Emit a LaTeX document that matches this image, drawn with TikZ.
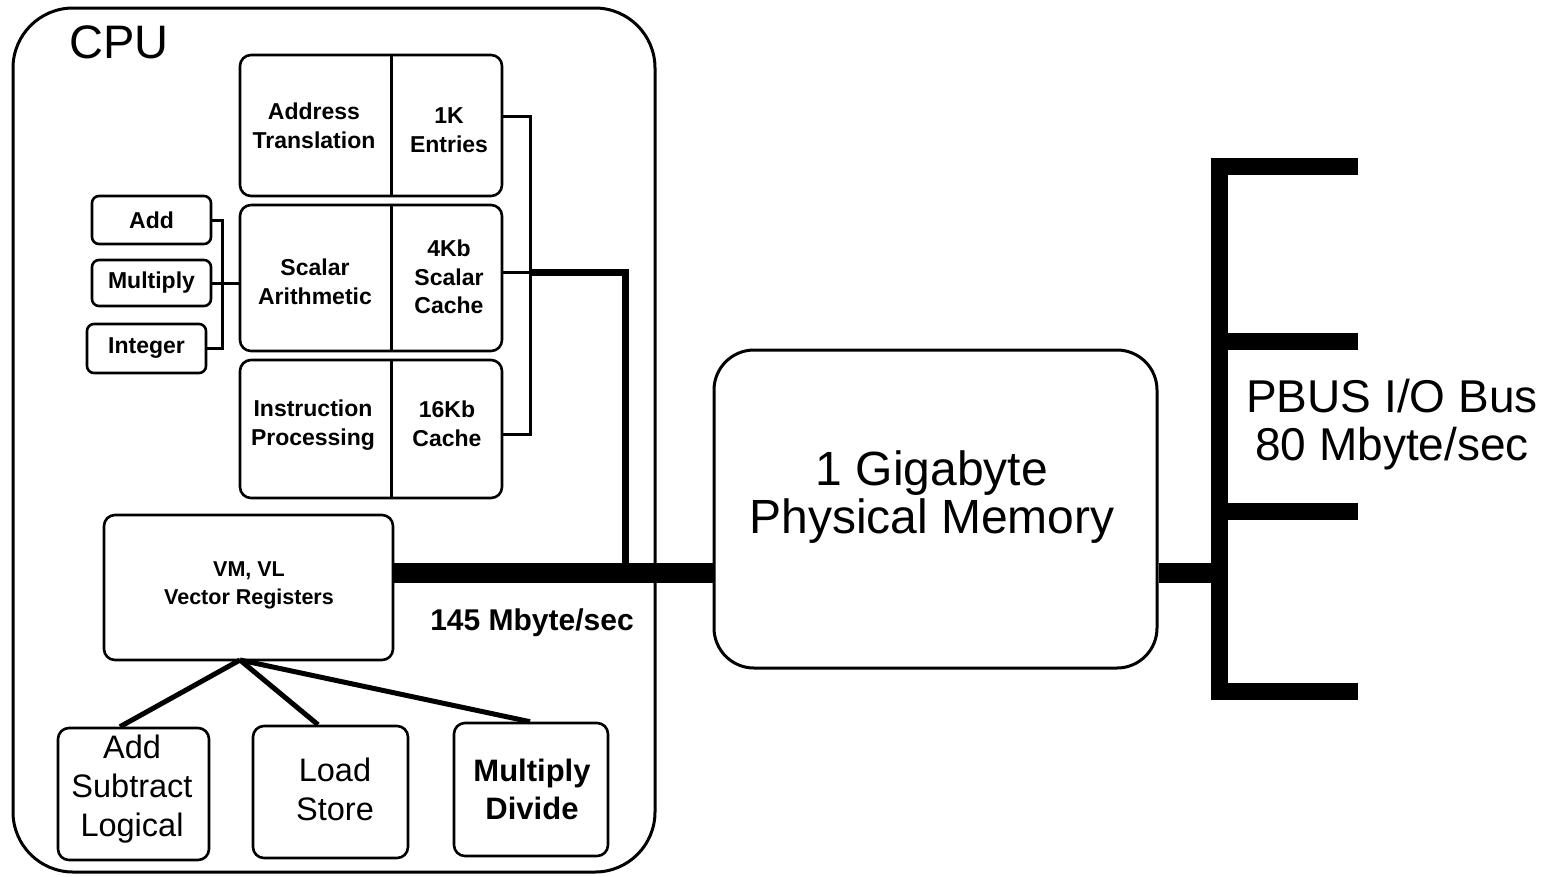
\documentclass[tikz,border=0pt]{standalone}
\usepackage{fontspec}
\setmainfont{Liberation Sans}
\usetikzlibrary{calc}
\begin{document}
\begin{tikzpicture}[x=1pt,y=-1pt,
  box/.style={draw,line width=2.6pt,rounded corners=11pt,inner sep=0pt},
  bigbox/.style={draw,line width=3pt,rounded corners=#1,inner sep=0pt},
  lbl/.style={align=center,inner sep=0pt,font=\bfseries\fontsize{23}{28.5}\selectfont},
  vlbl/.style={align=center,inner sep=0pt,font=\bfseries\fontsize{21.5}{28}\selectfont},
  blbl/.style={align=center,inner sep=0pt,font=\fontsize{32.5}{39}\selectfont},
  bblbl/.style={align=center,inner sep=0pt,font=\bfseries\fontsize{31}{38}\selectfont},
  huge/.style={align=center,inner sep=0pt,font=\fontsize{48}{48}\selectfont},
  wire/.style={line width=3pt},
  fat/.style={line width=7pt},
  bus/.style={line width=20pt},
  iobus/.style={line width=17pt},
  link/.style={line width=5pt}]
\useasboundingbox (0,0) rectangle (1554,876);
% CPU outline
\node[bigbox=60pt,minimum width=642pt,minimum height=864pt] (cpu) at (334,440) {};
\node[inner sep=0pt,anchor=west,font=\fontsize{47}{48}\selectfont] (cputxt) at (69,42) {CPU};
% split boxes
\node[box,minimum width=262pt,minimum height=141pt] (atbox) at (371,125.5) {};
\node[box,minimum width=262pt,minimum height=146pt] (sabox) at (371,278) {};
\node[box,minimum width=262pt,minimum height=138pt] (ipbox) at (371,429) {};
\draw[wire] (atbox.north west) ++(153,0) -- ++(0,141);
\draw[wire] (sabox.north west) ++(153,0) -- ++(0,146);
\draw[wire] (ipbox.north west) ++(153,0) -- ++(0,138);
\node[lbl] (at) at (314,126) {Address\\Translation};
\node[lbl] (atk) at (449,130) {1K\\Entries};
\node[lbl] (sa) at (315,282) {Scalar\\Arithmetic};
\node[lbl] (sak) at (449,277) {4Kb\\Scalar\\Cache};
\node[lbl] (ip) at (313,425) {Instruction\\Processing};
\node[lbl] (ipk) at (447,424) {16Kb\\Cache};
% small boxes
\node[box,rounded corners=7pt,minimum width=119pt,minimum height=48pt,lbl] (add) at (151.5,220) {Add};
\node[box,rounded corners=7pt,minimum width=119pt,minimum height=46pt,lbl] (mul) at (151.5,283) {Multiply};
\node[box,rounded corners=7pt,minimum width=119pt,minimum height=49pt,lbl] (int) at (146.5,348.5) {Integer};
\coordinate (lb) at (222,283);
\draw[wire] (add.east) -| (lb) |- (int.east);
\draw[wire] (mul.east) -- (mul.east -| sabox.west);
% right bracket
\coordinate (rb) at (530,272);
\draw[wire] ($(atbox.east)+(0,-9)$) -| (rb) |- ($(ipbox.east)+(0,5)$);
\draw[wire] ($(sabox.east)+(0,-6)$) -- (rb);
\coordinate (busy) at (0,573);
\coordinate (drop) at (625,272);
\draw[fat] (rb) -- (drop) -- (drop |- busy);
% vector registers
\node[box,minimum width=289pt,minimum height=145pt] (vm) at (248.5,587.5) {};
\node[vlbl] (vmt) at (249,585) {VM, VL\\Vector Registers};
\node[inner sep=0pt,font=\bfseries\fontsize{30}{30}\selectfont] (rate) at (532,623) {145 Mbyte/sec};
% bottom units
\node[box,minimum width=151pt,minimum height=132pt] (asl) at (133.5,794) {};
\node[blbl] (aslt) at (132,789) {Add\\Subtract\\Logical};
\node[box,minimum width=155pt,minimum height=132pt] (ls) at (330.5,792) {};
\node[blbl] (lst) at (335,789) {Load\\Store};
\node[box,minimum width=154pt,minimum height=133pt] (md) at (531,789.5) {};
\node[bblbl] (mdt) at (532,789) {Multiply\\Divide};
\coordinate (vmb) at (240,660);
\draw[link] (vmb) -- (asl.north -| 120,0);
\draw[link] (vmb) -- (ls.north -| 318,0);
\draw[link] (vmb) -- (md.north -| 530,0);
% memory
\node[bigbox=40pt,minimum width=443pt,minimum height=318pt] (mem) at (935.5,509) {};
\node[huge] (memt) at (932,497) {1 Gigabyte\\Physical Memory};
% main bus
\draw[bus] (vm.east |- busy) -- (mem.west |- busy);
% I/O bus
\coordinate (iotop) at (1219,158);
\coordinate (iobot) at (1219,700);
\draw[iobus] (iotop) -- (iobot);
\coordinate (b1) at (1358,166.5);
\coordinate (b2) at (1358,341.5);
\coordinate (b3) at (1358,511.5);
\coordinate (b4) at (1358,691.5);
\draw[iobus] (b1 -| 1210.5,0) -- (b1);
\draw[iobus] (b2 -| iotop) -- (b2);
\draw[iobus] (b3 -| iotop) -- (b3);
\draw[iobus] (b4 -| 1210.5,0) -- (b4);
\draw[bus] (mem.east |- busy) -- (busy -| iotop);
\node[huge,font=\fontsize{46}{48}\selectfont] (pbus) at (1392,425) {PBUS I/O Bus\\80 Mbyte/sec};
\end{tikzpicture}
\end{document}
